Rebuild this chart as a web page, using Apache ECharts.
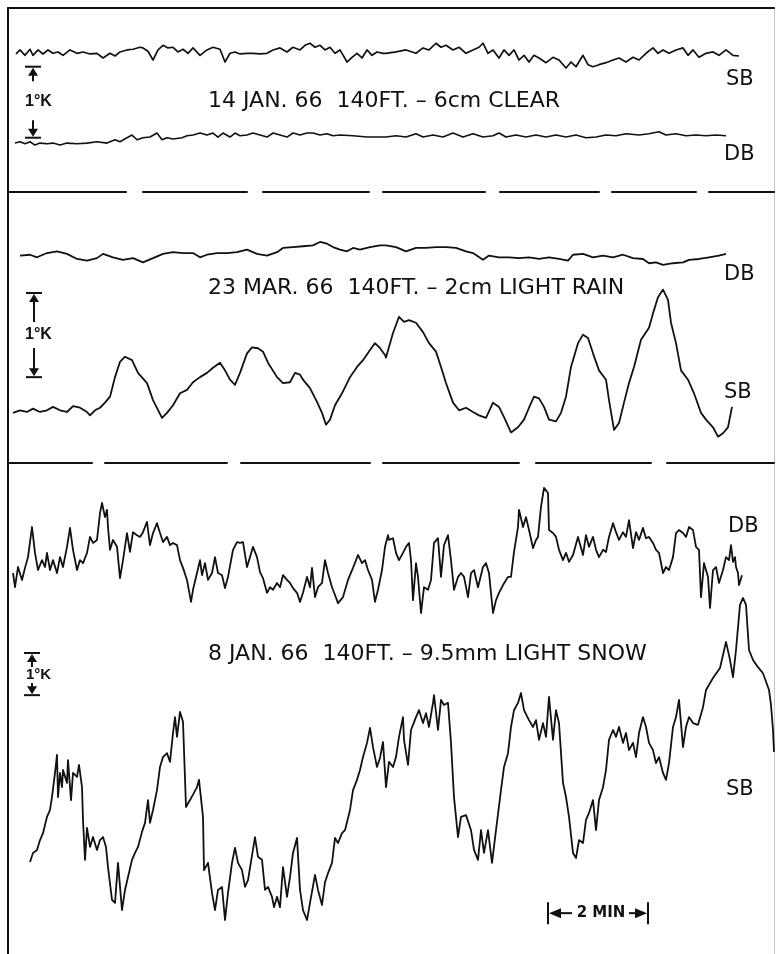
<!DOCTYPE html>
<html><head><meta charset="utf-8">
<script src="https://cdn.jsdelivr.net/npm/echarts@6/dist/echarts.min.js"></script>
<style>html,body{margin:0;padding:0;background:#fff}#c{width:776px;height:954px}</style>
</head><body><div id="c"></div>
<script>
// time in minutes, brightness temperature in K (per-panel offset scale)
const sbClear = [[0.32,2.06],[0.40,2.12],[0.50,2.04],[0.60,2.13],[0.66,2.04],[0.76,2.12],[0.86,2.06],[0.96,2.12],[1.06,2.07],[1.16,2.09],[1.26,2.04],[1.40,2.12],[1.54,2.07],[1.66,2.09],[1.80,2.06],[1.94,2.07],[2.06,2.00],[2.20,2.07],[2.30,2.03],[2.40,2.09],[2.54,2.12],[2.66,2.13],[2.80,2.16],[2.86,2.15],[2.96,2.10],[3.06,1.97],[3.16,2.12],[3.26,2.19],[3.36,2.15],[3.46,2.16],[3.56,2.09],[3.66,2.13],[3.76,2.07],[3.86,2.15],[4.00,2.04],[4.14,2.12],[4.26,2.16],[4.40,2.13],[4.50,1.94],[4.60,2.07],[4.70,2.09],[4.80,2.06],[4.94,2.07],[5.06,2.07],[5.20,2.06],[5.34,2.07],[5.46,2.12],[5.60,2.15],[5.74,2.09],[5.86,2.16],[6.00,2.12],[6.10,2.19],[6.20,2.22],[6.30,2.16],[6.40,2.19],[6.50,2.12],[6.60,2.16],[6.70,2.07],[6.80,2.12],[6.94,1.94],[7.04,2.01],[7.14,2.07],[7.24,2.00],[7.34,2.12],[7.44,2.04],[7.54,2.09],[7.66,2.07],[7.72,2.07],[7.92,2.09],[8.12,2.12],[8.32,2.07],[8.46,2.15],[8.58,2.12],[8.72,2.22],[8.82,2.16],[8.92,2.19],[9.06,2.12],[9.18,2.16],[9.32,2.07],[9.46,2.12],[9.58,2.16],[9.66,2.22],[9.76,2.07],[9.86,2.12],[9.98,2.00],[10.08,2.12],[10.18,2.04],[10.28,2.12],[10.38,1.97],[10.48,2.04],[10.58,1.94],[10.68,2.04],[10.78,2.00],[10.92,1.93],[11.06,2.01],[11.18,1.97],[11.32,1.85],[11.42,1.94],[11.52,1.87],[11.66,2.04],[11.76,1.90],[11.86,1.87],[11.98,1.90],[12.12,1.93],[12.26,1.97],[12.38,2.00],[12.52,1.94],[12.66,2.01],[12.78,1.97],[12.92,2.07],[13.06,2.15],[13.16,2.07],[13.26,2.12],[13.38,2.07],[13.52,2.12],[13.66,2.15],[13.76,2.04],[13.86,2.12],[13.98,2.01],[14.12,2.07],[14.26,2.09],[14.38,2.04],[14.52,2.12],[14.66,2.04],[14.78,2.03]];

const dbClear = [[0.30,0.73],[0.40,0.75],[0.50,0.72],[0.60,0.75],[0.70,0.70],[0.80,0.73],[0.94,0.72],[1.06,0.73],[1.20,0.70],[1.34,0.73],[1.54,0.72],[1.74,0.73],[1.94,0.75],[2.14,0.73],[2.30,0.78],[2.40,0.75],[2.54,0.81],[2.64,0.85],[2.74,0.78],[2.86,0.81],[3.00,0.82],[3.14,0.88],[3.24,0.78],[3.34,0.81],[3.46,0.79],[3.64,0.81],[3.74,0.84],[3.86,0.85],[4.00,0.88],[4.14,0.85],[4.26,0.88],[4.36,0.82],[4.46,0.88],[4.60,0.82],[4.70,0.88],[4.80,0.84],[4.94,0.85],[5.06,0.88],[5.20,0.85],[5.34,0.82],[5.46,0.88],[5.60,0.85],[5.74,0.82],[5.86,0.88],[6.00,0.85],[6.14,0.88],[6.26,0.88],[6.40,0.85],[6.54,0.87],[6.66,0.84],[6.80,0.85],[7.06,0.84],[7.34,0.82],[7.60,0.82],[7.72,0.82],[7.92,0.84],[8.12,0.82],[8.32,0.87],[8.46,0.82],[8.66,0.85],[8.86,0.82],[9.06,0.88],[9.26,0.82],[9.46,0.87],[9.66,0.82],[9.86,0.84],[9.98,0.88],[10.12,0.82],[10.32,0.85],[10.52,0.82],[10.72,0.85],[10.92,0.82],[11.12,0.85],[11.32,0.82],[11.52,0.85],[11.72,0.81],[11.92,0.82],[12.12,0.85],[12.32,0.84],[12.52,0.87],[12.78,0.85],[12.98,0.87],[13.18,0.90],[13.32,0.85],[13.52,0.87],[13.72,0.84],[13.92,0.85],[14.12,0.84],[14.32,0.85],[14.52,0.84]];

const dbRain = [[0.40,2.44],[0.60,2.45],[0.74,2.42],[0.94,2.47],[1.14,2.49],[1.34,2.46],[1.54,2.40],[1.74,2.38],[1.94,2.41],[2.06,2.46],[2.26,2.42],[2.46,2.39],[2.66,2.41],[2.86,2.36],[3.06,2.41],[3.26,2.46],[3.46,2.48],[3.66,2.47],[3.86,2.47],[4.00,2.42],[4.14,2.45],[4.34,2.47],[4.54,2.47],[4.74,2.48],[4.94,2.51],[5.14,2.46],[5.34,2.44],[5.54,2.48],[5.66,2.53],[5.86,2.54],[6.06,2.55],[6.26,2.56],[6.40,2.60],[6.54,2.58],[6.66,2.54],[6.80,2.51],[6.94,2.49],[7.06,2.53],[7.20,2.51],[7.40,2.54],[7.60,2.56],[7.72,2.56],[7.92,2.54],[8.12,2.49],[8.32,2.53],[8.52,2.53],[8.72,2.54],[8.92,2.54],[9.12,2.53],[9.32,2.49],[9.46,2.47],[9.66,2.39],[9.78,2.44],[9.98,2.42],[10.18,2.42],[10.38,2.41],[10.58,2.42],[10.78,2.40],[10.98,2.42],[11.18,2.40],[11.36,2.38],[11.46,2.45],[11.66,2.46],[11.86,2.42],[12.06,2.44],[12.26,2.42],[12.46,2.45],[12.66,2.41],[12.86,2.40],[12.98,2.35],[13.12,2.36],[13.26,2.33],[13.46,2.35],[13.66,2.36],[13.78,2.39],[13.98,2.40],[14.18,2.42],[14.38,2.44],[14.52,2.46]];

const sbRain = [[0.26,0.59],[0.40,0.62],[0.54,0.60],[0.66,0.64],[0.80,0.60],[0.94,0.62],[1.06,0.66],[1.20,0.62],[1.34,0.60],[1.46,0.67],[1.60,0.65],[1.74,0.60],[1.80,0.56],[1.90,0.62],[2.00,0.65],[2.10,0.71],[2.20,0.78],[2.30,1.01],[2.40,1.19],[2.50,1.25],[2.64,1.21],[2.76,1.06],[2.94,0.94],[3.06,0.74],[3.24,0.53],[3.34,0.59],[3.46,0.68],[3.60,0.82],[3.74,0.86],[3.86,0.95],[4.00,1.01],[4.14,1.06],[4.26,1.12],[4.40,1.18],[4.50,1.09],[4.60,0.98],[4.70,0.92],[4.80,1.06],[4.94,1.29],[5.04,1.36],[5.16,1.35],[5.26,1.31],[5.36,1.18],[5.54,1.01],[5.66,0.94],[5.80,0.95],[5.90,1.06],[6.00,1.04],[6.06,0.98],[6.20,0.88],[6.34,0.72],[6.44,0.59],[6.52,0.45],[6.60,0.51],[6.70,0.68],[6.84,0.82],[7.00,1.01],[7.14,1.13],[7.26,1.21],[7.40,1.33],[7.50,1.41],[7.60,1.35],[7.70,1.27],[7.72,1.24],[7.86,1.53],[7.98,1.72],[8.08,1.66],[8.18,1.68],[8.32,1.65],[8.46,1.54],[8.58,1.41],[8.72,1.31],[8.82,1.13],[8.92,0.94],[9.06,0.71],[9.18,0.62],[9.32,0.65],[9.46,0.60],[9.58,0.56],[9.72,0.53],[9.86,0.71],[9.98,0.66],[10.08,0.54],[10.22,0.36],[10.36,0.42],[10.48,0.51],[10.58,0.65],[10.68,0.78],[10.78,0.76],[10.88,0.66],[10.98,0.51],[11.12,0.49],[11.22,0.59],[11.32,0.78],[11.42,1.13],[11.56,1.41],[11.66,1.51],[11.76,1.47],[11.86,1.29],[11.98,1.09],[12.12,0.98],[12.18,0.74],[12.28,0.39],[12.38,0.47],[12.48,0.71],[12.58,0.94],[12.68,1.13],[12.82,1.45],[12.98,1.59],[13.06,1.76],[13.16,1.95],[13.26,2.04],[13.36,1.92],[13.42,1.65],[13.52,1.41],[13.62,1.09],[13.76,0.98],[13.88,0.82],[14.02,0.59],[14.12,0.51],[14.26,0.42],[14.36,0.31],[14.46,0.35],[14.56,0.42],[14.64,0.66]];

const dbSnow = [[0.26,8.86],[0.30,8.53],[0.36,9.00],[0.44,8.70],[0.50,8.98],[0.56,9.23],[0.64,9.93],[0.70,9.33],[0.76,8.93],[0.84,9.16],[0.90,9.00],[0.94,9.33],[1.00,8.93],[1.06,9.16],[1.14,8.86],[1.20,9.23],[1.26,9.00],[1.34,9.47],[1.40,9.91],[1.46,9.40],[1.54,8.93],[1.60,9.16],[1.66,9.09],[1.74,9.33],[1.80,9.70],[1.86,9.56],[1.94,9.63],[2.00,10.26],[2.04,10.49],[2.10,10.16],[2.14,10.33],[2.16,9.93],[2.20,9.40],[2.26,9.63],[2.34,9.47],[2.40,8.74],[2.46,9.16],[2.54,9.79],[2.60,9.35],[2.66,9.81],[2.74,9.74],[2.80,9.70],[2.86,9.81],[2.94,10.05],[3.00,9.51],[3.06,9.79],[3.14,10.02],[3.20,9.79],[3.26,9.58],[3.34,9.70],[3.40,9.51],[3.46,9.56],[3.54,9.51],[3.60,9.16],[3.66,8.98],[3.74,8.70],[3.82,8.19],[3.86,8.47],[3.94,8.86],[4.00,9.16],[4.04,8.81],[4.10,9.09],[4.16,8.70],[4.24,8.86],[4.30,9.23],[4.36,8.86],[4.44,8.81],[4.50,8.51],[4.56,8.77],[4.66,9.40],[4.74,9.58],[4.80,9.56],[4.86,9.58],[4.94,9.00],[5.00,9.23],[5.06,9.47],[5.14,9.23],[5.20,8.88],[5.26,8.74],[5.34,8.40],[5.40,8.53],[5.46,8.47],[5.54,8.63],[5.60,8.53],[5.66,8.81],[5.74,8.70],[5.80,8.63],[5.86,8.51],[5.94,8.40],[6.00,8.19],[6.06,8.40],[6.14,8.77],[6.20,8.53],[6.24,8.98],[6.30,8.30],[6.36,8.53],[6.44,8.63],[6.50,9.16],[6.56,8.86],[6.64,8.53],[6.70,8.35],[6.76,8.16],[6.86,8.30],[6.96,8.70],[7.06,8.98],[7.16,9.28],[7.24,9.09],[7.30,9.16],[7.36,8.93],[7.44,8.70],[7.50,8.19],[7.56,8.47],[7.64,8.93],[7.70,9.47],[7.76,9.74],[7.78,9.63],[7.86,9.67],[7.92,9.33],[7.98,9.16],[8.06,9.33],[8.12,9.47],[8.18,9.56],[8.22,9.16],[8.26,8.23],[8.32,9.09],[8.36,8.77],[8.42,7.93],[8.48,8.53],[8.56,8.47],[8.62,8.70],[8.68,9.56],[8.76,9.67],[8.82,8.77],[8.88,9.51],[8.96,9.74],[9.02,9.16],[9.08,8.47],[9.16,8.77],[9.22,8.86],[9.28,8.77],[9.36,8.30],[9.42,8.86],[9.48,8.93],[9.56,8.53],[9.66,9.00],[9.72,9.09],[9.78,8.86],[9.86,7.93],[9.92,8.23],[9.98,8.40],[10.06,8.58],[10.16,8.77],[10.22,8.77],[10.28,9.35],[10.36,9.93],[10.38,10.33],[10.46,9.93],[10.52,10.16],[10.58,9.86],[10.66,9.44],[10.72,9.63],[10.76,9.70],[10.82,10.40],[10.88,10.84],[10.96,10.72],[10.98,9.86],[11.06,9.79],[11.12,9.70],[11.18,9.40],[11.26,9.16],[11.32,9.33],[11.38,9.12],[11.46,9.28],[11.56,9.70],[11.66,9.28],[11.72,9.74],[11.78,9.47],[11.86,9.70],[11.92,9.40],[11.98,9.23],[12.06,9.40],[12.12,9.35],[12.18,9.70],[12.26,10.02],[12.32,9.81],[12.38,9.63],[12.46,9.81],[12.52,9.70],[12.58,10.09],[12.66,9.44],[12.72,9.81],[12.78,9.63],[12.86,9.91],[12.92,9.67],[12.98,9.70],[13.06,9.56],[13.12,9.40],[13.18,9.33],[13.26,8.86],[13.32,9.00],[13.38,8.93],[13.46,9.23],[13.52,9.79],[13.58,9.86],[13.66,9.79],[13.72,9.70],[13.78,9.93],[13.86,9.86],[13.92,9.47],[13.98,9.40],[14.02,8.30],[14.08,9.09],[14.16,8.77],[14.20,8.05],[14.26,8.93],[14.32,9.00],[14.38,8.63],[14.46,8.93],[14.52,9.23],[14.58,9.16],[14.62,9.51],[14.66,9.12],[14.70,9.23],[14.72,9.00],[14.76,8.86],[14.78,8.58],[14.84,8.81]];

const sbSnow = [[0.60,2.14],[0.66,2.35],[0.74,2.42],[0.80,2.65],[0.86,2.81],[0.94,3.19],[1.00,3.35],[1.04,3.65],[1.10,4.21],[1.14,4.63],[1.16,3.65],[1.20,4.21],[1.24,3.88],[1.26,4.28],[1.34,3.98],[1.36,4.51],[1.42,3.58],[1.46,4.21],[1.54,4.12],[1.58,4.40],[1.64,3.88],[1.66,3.12],[1.70,2.19],[1.74,2.93],[1.80,2.49],[1.86,2.72],[1.94,2.42],[2.00,2.65],[2.06,2.72],[2.12,2.49],[2.16,2.02],[2.24,1.26],[2.30,1.19],[2.36,2.12],[2.44,1.02],[2.50,1.49],[2.56,1.79],[2.64,2.19],[2.70,2.35],[2.76,2.49],[2.84,2.84],[2.90,3.05],[2.96,3.58],[3.00,3.05],[3.06,3.35],[3.14,3.81],[3.20,4.35],[3.26,4.58],[3.34,4.67],[3.40,4.47],[3.46,5.14],[3.50,5.51],[3.54,5.05],[3.60,5.63],[3.66,5.40],[3.72,3.42],[3.80,3.58],[3.94,3.88],[3.98,4.05],[4.06,3.19],[4.08,1.95],[4.16,2.12],[4.24,1.42],[4.30,1.02],[4.36,1.49],[4.44,1.56],[4.50,0.79],[4.56,1.42],[4.64,2.12],[4.70,2.47],[4.76,2.12],[4.84,1.95],[4.90,1.56],[4.96,1.72],[5.10,2.72],[5.16,2.26],[5.24,2.19],[5.30,1.49],[5.36,1.56],[5.44,1.33],[5.48,1.09],[5.54,1.33],[5.60,1.09],[5.66,2.02],[5.74,1.33],[5.80,1.79],[5.86,2.35],[5.94,2.70],[6.00,1.49],[6.06,1.02],[6.14,0.79],[6.20,1.19],[6.30,1.84],[6.36,1.49],[6.44,1.14],[6.50,1.67],[6.56,1.88],[6.64,2.12],[6.70,2.70],[6.76,2.58],[6.84,2.81],[6.90,2.88],[7.00,3.35],[7.06,3.81],[7.14,4.05],[7.20,4.28],[7.26,4.58],[7.34,4.91],[7.40,5.26],[7.46,4.81],[7.54,4.35],[7.60,4.56],[7.66,4.93],[7.72,3.88],[7.78,4.47],[7.86,4.35],[7.92,4.58],[7.98,5.05],[8.06,5.51],[8.08,4.98],[8.16,4.40],[8.22,5.21],[8.32,5.51],[8.38,5.67],[8.46,5.37],[8.52,5.60],[8.58,5.28],[8.66,5.84],[8.68,6.02],[8.76,5.21],[8.82,5.91],[8.88,5.79],[8.96,5.84],[9.02,4.91],[9.08,3.65],[9.16,2.72],[9.22,3.19],[9.32,3.23],[9.42,2.88],[9.48,2.42],[9.56,2.19],[9.62,2.88],[9.68,2.35],[9.76,2.88],[9.84,2.12],[9.92,2.88],[10.02,3.81],[10.08,4.35],[10.16,4.67],[10.22,5.28],[10.28,5.67],[10.36,5.84],[10.42,6.07],[10.48,5.67],[10.58,5.44],[10.66,5.28],[10.72,5.44],[10.78,4.98],[10.86,5.37],[10.92,5.05],[10.98,5.98],[11.06,4.98],[11.12,5.67],[11.18,5.37],[11.26,3.98],[11.32,3.65],[11.38,3.19],[11.46,2.35],[11.52,2.23],[11.58,2.65],[11.66,2.58],[11.72,3.12],[11.78,3.28],[11.86,3.58],[11.92,2.88],[11.98,3.58],[12.06,3.88],[12.12,4.28],[12.18,4.98],[12.26,5.21],[12.32,5.05],[12.38,5.28],[12.46,4.91],[12.52,5.14],[12.58,4.74],[12.66,4.91],[12.72,4.58],[12.78,5.14],[12.86,5.51],[12.92,5.28],[12.98,4.91],[13.06,4.74],[13.12,4.44],[13.18,4.58],[13.26,4.21],[13.32,4.05],[13.38,4.44],[13.46,5.28],[13.52,5.51],[13.58,5.91],[13.66,4.81],[13.72,5.28],[13.78,5.51],[13.86,5.37],[13.96,5.33],[14.06,5.74],[14.12,6.14],[14.26,6.42],[14.40,6.65],[14.52,7.26],[14.60,6.84],[14.66,6.44],[14.72,7.07],[14.80,8.12],[14.86,8.28],[14.92,8.12],[14.98,7.07],[15.06,6.84],[15.16,6.67],[15.26,6.53],[15.38,6.14],[15.42,5.79],[15.46,5.21],[15.48,4.70]];

const panelTitles = ['14 JAN. 66  140FT. – 6cm CLEAR', '23 MAR. 66  140FT. – 2cm LIGHT RAIN', '8 JAN. 66  140FT. – 9.5mm LIGHT SNOW'];
const traceNames = ['SB', 'DB'];
// 1 K calibration marks: [time (min), lower K, upper K]
const kMarkClear = [[0.66, 0.81, 1.87]];
const kMarkRain = [[0.68, 1.01, 2.00]];
const kMarkSnow = [[0.64, 6.02, 7.00]];
// 2-minute time mark: [start min, end min, level K]
const timeMark = [[10.96, 12.96, 0.95]];

const INK = '#111';
const FONT = '"DejaVu Sans", "Liberation Sans", sans-serif';
const MARKFONT = '"Liberation Sans", Arial, sans-serif';

function kMarkRender(fontSize, gapUp, gapDown, textDx, textDy) {
  return function (params, api) {
    const top = api.coord([api.value(0), api.value(2)]);
    const bot = api.coord([api.value(0), api.value(1)]);
    const x = top[0], y0 = top[1], y1 = bot[1];
    const mid = (y0 + y1) / 2;
    const hw = 8, ah = 8, aw = 5;
    const st = { stroke: INK, lineWidth: 2 };
    return { type: 'group', children: [
      { type: 'line', shape: { x1: x - hw, y1: y0, x2: x + hw, y2: y0 }, style: st },
      { type: 'polygon', shape: { points: [[x, y0 + 1], [x - aw, y0 + 1 + ah], [x + aw, y0 + 1 + ah]] }, style: { fill: INK } },
      { type: 'line', shape: { x1: x, y1: y0 + ah, x2: x, y2: mid - gapUp }, style: st },
      { type: 'text', style: { text: '1°K', x: x + textDx, y: mid + textDy, verticalAlign: 'middle', font: 'bold ' + fontSize + 'px ' + MARKFONT, fill: INK } },
      { type: 'line', shape: { x1: x, y1: mid + gapDown, x2: x, y2: y1 - ah }, style: st },
      { type: 'polygon', shape: { points: [[x, y1 - 1], [x - aw, y1 - 1 - ah], [x + aw, y1 - 1 - ah]] }, style: { fill: INK } },
      { type: 'line', shape: { x1: x - hw, y1: y1, x2: x + hw, y2: y1 }, style: st }
    ] };
  };
}

function timeMarkRender(params, api) {
  const a = api.coord([api.value(0), api.value(2)]);
  const b = api.coord([api.value(1), api.value(2)]);
  const y = a[1], x0 = a[0], x1 = b[0];
  const st = { stroke: INK, lineWidth: 2 };
  return { type: 'group', children: [
    { type: 'line', shape: { x1: x0, y1: y - 11, x2: x0, y2: y + 11 }, style: st },
    { type: 'polygon', shape: { points: [[x0 + 1, y], [x0 + 13, y - 5], [x0 + 13, y + 5]] }, style: { fill: INK } },
    { type: 'line', shape: { x1: x0 + 13, y1: y, x2: x0 + 24, y2: y }, style: st },
    { type: 'text', style: { text: '2 MIN', x: (x0 + x1) / 2 + 3, y: y, align: 'center', verticalAlign: 'middle', font: 'bold 15px ' + FONT, fill: INK } },
    { type: 'line', shape: { x1: x1 - 19, y1: y, x2: x1 - 13, y2: y }, style: st },
    { type: 'polygon', shape: { points: [[x1 - 1, y], [x1 - 13, y - 5], [x1 - 13, y + 5]] }, style: { fill: INK } },
    { type: 'line', shape: { x1: x1, y1: y - 11, x2: x1, y2: y + 11 }, style: st }
  ] };
}

const X_MIN = 0.16, X_MAX = 15.48;
const hidden = { axisTick: { show: false }, axisLabel: { show: false }, splitLine: { show: false } };
function xAx(grid, pos, line) {
  return Object.assign({ type: 'value', gridIndex: grid, min: X_MIN, max: X_MAX, position: pos, axisLine: line }, hidden);
}
function yAx(grid, max, pos, line) {
  return Object.assign({ type: 'value', gridIndex: grid, min: 0, max: max, position: pos, axisLine: line }, hidden);
}
const solid = { show: true, onZero: false, lineStyle: { color: INK, width: 2 } };
const faint = { show: true, onZero: false, lineStyle: { color: '#c8c8c8', width: 1 } };

function trace(data, xi, yi, w) {
  return { type: 'line', data: data, xAxisIndex: xi, yAxisIndex: yi, symbol: 'none', smooth: false,
    lineStyle: { color: INK, width: w, join: 'round' }, silent: true, z: 3 };
}

function label(text, x, y, size) {
  return { type: 'text', x: x, y: y, silent: true, style: { text: text, font: size + 'px ' + FONT, fill: INK, verticalAlign: 'middle' } };
}

const chart = echarts.init(document.getElementById('c'), null, { renderer: 'canvas' });
chart.setOption({
  animation: false,
  backgroundColor: '#fff',
  grid: [
    { left: 8, right: 2, top: 8, height: 184 },
    { left: 8, right: 2, top: 192, height: 271 },
    { left: 8, right: 2, top: 463, height: 491 }
  ],
  xAxis: [
    xAx(0, 'bottom', { show: true, onZero: false, lineStyle: { color: INK, width: 2, type: [118, 17, 104, 16, 106, 14, 102, 15, 99, 13, 84, 13, 67] } }),
    xAx(0, 'top', solid),
    xAx(1, 'bottom', { show: true, onZero: false, lineStyle: { color: INK, width: 2, type: [84, 13, 122, 14, 129, 13, 136, 17, 115, 16, 109] } }),
    xAx(2, 'bottom', { show: false })
  ],
  yAxis: [
    yAx(0, 2.746, 'left', solid),
    yAx(1, 3.188, 'left', solid),
    yAx(2, 11.419, 'left', solid),
    yAx(0, 2.746, 'right', faint),
    yAx(1, 3.188, 'right', faint),
    yAx(2, 11.419, 'right', faint)
  ],
  series: [
    trace(sbClear, 0, 0, 1.7),
    trace(dbClear, 0, 0, 1.6),
    trace(dbRain, 2, 1, 1.8),
    trace(sbRain, 2, 1, 1.8),
    trace(dbSnow, 3, 2, 1.8),
    trace(sbSnow, 3, 2, 1.8),
    { type: 'custom', xAxisIndex: 0, yAxisIndex: 0, data: kMarkClear, encode: { x: 0, y: [1, 2] }, renderItem: kMarkRender(16, 21, 18, -8, -1), clip: false, silent: true },
    { type: 'custom', xAxisIndex: 2, yAxisIndex: 1, data: kMarkRain, encode: { x: 0, y: [1, 2] }, renderItem: kMarkRender(16, 13, 13, -9, 0), clip: false, silent: true },
    { type: 'custom', xAxisIndex: 3, yAxisIndex: 2, data: kMarkSnow, encode: { x: 0, y: [1, 2] }, renderItem: kMarkRender(15, 7, 9, -6, 1), clip: false, silent: true },
    { type: 'custom', xAxisIndex: 3, yAxisIndex: 2, data: timeMark, encode: { x: [0, 1], y: 2 }, renderItem: timeMarkRender, clip: false, silent: true }
  ],
  graphic: { elements: [
    label(panelTitles[0], 208, 101, 22),
    label(panelTitles[1], 208, 288, 22),
    label(panelTitles[2], 208, 654, 22),
    label(traceNames[0], 726, 80, 21),
    label(traceNames[1], 724, 155, 21),
    label(traceNames[1], 724, 275, 21),
    label(traceNames[0], 724, 393, 21),
    label(traceNames[1], 728, 527, 21),
    label(traceNames[0], 726, 790, 21)
  ] }
});
</script></body></html>
